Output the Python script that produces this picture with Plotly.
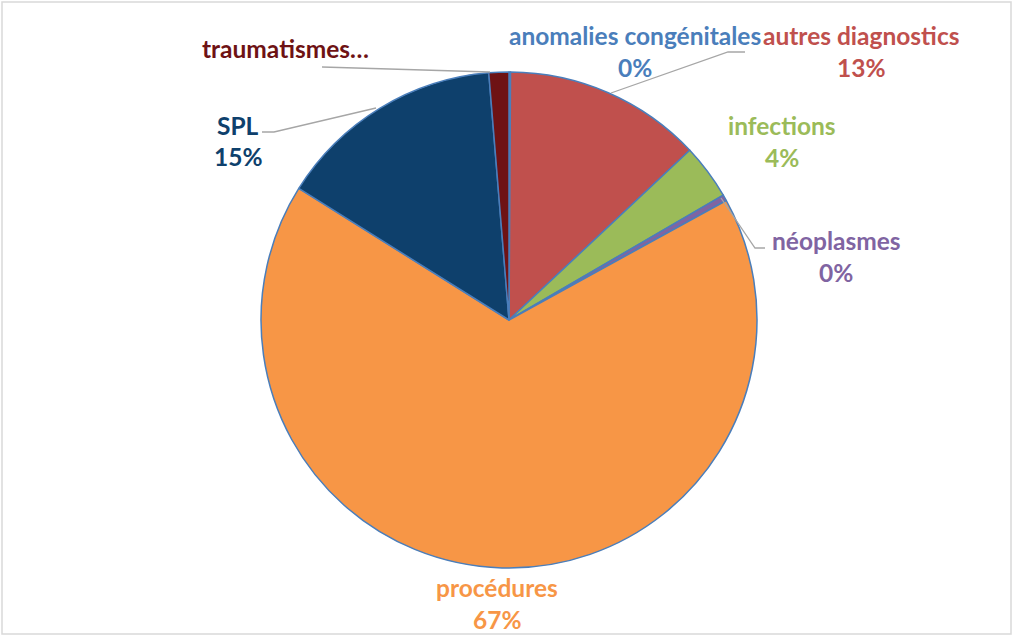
import plotly.graph_objects as go

labels = ["anomalies congénitales", "autres diagnostics", "infections", "néoplasmes",
          "procédures", "SPL", "traumatismes…"]
values = [0.1, 12.9, 3.6, 0.4, 66.9, 14.8, 1.3]
colors = ["#4F81BD", "#C0504D", "#9BBB59", "#8064A2", "#F79646", "#0E406C", "#6E1214"]
text_colors = ["#4A7EBB", "#C0504D", "#9BBB59", "#8064A2", "#F79646", "#0E406C", "#6E1214"]
show_pct = [True, True, True, True, True, True, False]

W, H = 1014, 637
cx, cy, r = 509, 320, 248

# label positions in pixels (centre of the name line), Excel-like placement
label_pos = {
    "anomalies congénitales": (635, 35),
    "autres diagnostics": (861, 35),
    "infections": (782, 126),
    "néoplasmes": (836, 240),
    "procédures": (497, 587),
    "SPL": (238, 125),
    "traumatismes…": (285, 48),
}

# leader lines (pixel polylines)
leaders = [
    [(745, 52), (728, 52), (611, 93)],
    [(765, 248), (755, 248), (721, 198)],
    [(262, 132), (274, 132), (376, 108)],
    [(322, 67), (490, 72)],
]


def px(x):
    return x / W


def py(y):
    return 1 - y / H


fig = go.Figure(
    go.Pie(
        labels=labels,
        values=values,
        sort=False,
        direction="clockwise",
        rotation=0,
        marker=dict(colors=colors, line=dict(color="#4A7EBB", width=1.5)),
        textinfo="none",
        hoverinfo="label+percent",
        domain=dict(x=[px(cx - r), px(cx + r)], y=[py(cy + r), py(cy - r)]),
        showlegend=False,
    )
)

total = sum(values)
font_family = "Lato, Carlito, sans-serif"
fsize = 24.5
for lab, val, col, sp in zip(labels, values, text_colors, show_pct):
    x, y = label_pos[lab]
    fig.add_annotation(x=px(x), y=py(y), xref="paper", yref="paper", text=f"<b>{lab}</b>",
                       xanchor="center", yanchor="middle",
                       showarrow=False, font=dict(size=fsize, color=col, family=font_family))
    if sp:
        fig.add_annotation(x=px(x), y=py(y + 32), xref="paper", yref="paper",
                           text=f"<b>{round(val / total * 100)}%</b>",
                           xanchor="center", yanchor="middle",
                           showarrow=False, font=dict(size=fsize, color=col, family=font_family))

for pts in leaders:
    path = "M " + " L ".join(f"{px(x)},{py(y)}" for x, y in pts)
    fig.add_shape(type="path", path=path, xref="paper", yref="paper",
                  line=dict(color="#A6A6A6", width=1.3))

# chart border
fig.add_shape(type="rect", xref="paper", yref="paper", x0=px(2), y0=py(634), x1=px(1011), y1=py(2),
              line=dict(color="#D9D9D9", width=1.5))

fig.update_layout(
    width=W,
    height=H,
    margin=dict(l=0, r=0, t=0, b=0),
    paper_bgcolor="white",
    plot_bgcolor="white",
)

fig.write_html("out.html", config={"displayModeBar": False},
               post_script="document.body.style.margin='0';document.body.style.overflow='hidden';")
